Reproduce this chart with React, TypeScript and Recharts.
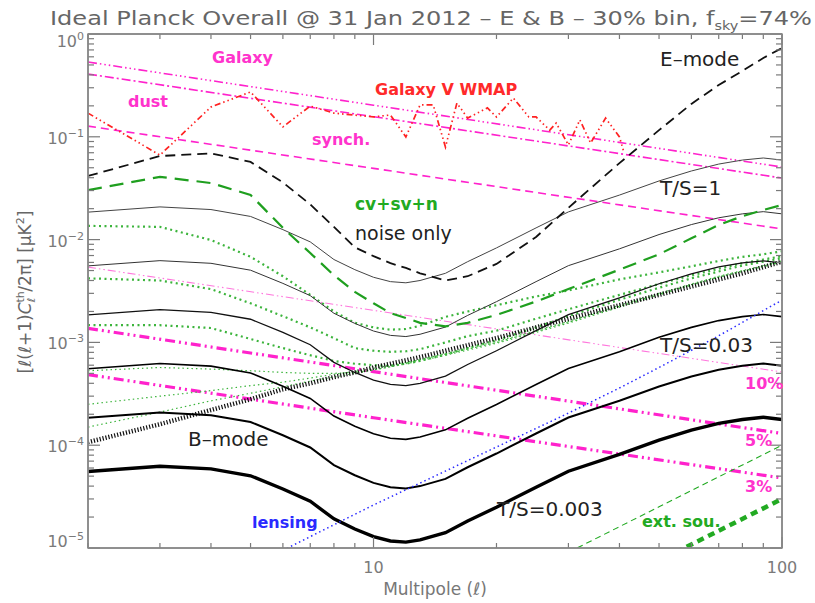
import React from "react";
import { LineChart, Line, XAxis, YAxis } from "recharts";

// multipole grid used by the smooth theory curves
const ELL = [2, 3, 4, 5, 6, 7, 8, 9, 10, 11, 12, 13, 15, 17, 20, 25, 30, 40, 50, 60, 70, 80, 90, 100];

// B-mode spectra for T/S = 1, 0.3, 0.1, 0.03, 0.01, 0.003
const bTS1 = [0.0185, 0.0208, 0.0196, 0.0168, 0.0125, 0.0095, 0.0064, 0.0051, 0.0043, 0.0039, 0.0038, 0.004, 0.0047, 0.0061, 0.0083, 0.013, 0.0186, 0.0271, 0.0372, 0.0465, 0.0543, 0.0594, 0.0622, 0.0594];
const bTS03 = [0.00555, 0.00624, 0.00588, 0.00504, 0.00375, 0.00285, 0.00192, 0.00153, 0.00129, 0.00117, 0.00114, 0.0012, 0.00141, 0.00183, 0.00249, 0.0039, 0.00558, 0.00813, 0.0112, 0.014, 0.0163, 0.0178, 0.0187, 0.0178];
const bTS01 = [0.00185, 0.00208, 0.00196, 0.00168, 0.00125, 0.00095, 0.00064, 0.00051, 0.00043, 0.00039, 0.00038, 0.0004, 0.00047, 0.00061, 0.00083, 0.0013, 0.00186, 0.00271, 0.00372, 0.00465, 0.00543, 0.00594, 0.00622, 0.00594];
const bTS003 = [5.55e-4, 6.24e-4, 5.88e-4, 5.04e-4, 3.75e-4, 2.85e-4, 1.92e-4, 1.53e-4, 1.29e-4, 1.17e-4, 1.14e-4, 1.2e-4, 1.41e-4, 1.83e-4, 2.49e-4, 3.9e-4, 5.58e-4, 8.13e-4, 1.12e-3, 1.4e-3, 1.63e-3, 1.78e-3, 1.87e-3, 1.78e-3];
const bTS001 = [1.85e-4, 2.08e-4, 1.96e-4, 1.68e-4, 1.25e-4, 9.5e-5, 6.4e-5, 5.1e-5, 4.3e-5, 3.9e-5, 3.8e-5, 4.0e-5, 4.7e-5, 6.1e-5, 8.3e-5, 1.3e-4, 1.86e-4, 2.71e-4, 3.72e-4, 4.65e-4, 5.43e-4, 5.94e-4, 6.22e-4, 5.94e-4];
const bTS0003 = [5.55e-5, 6.24e-5, 5.88e-5, 5.04e-5, 3.75e-5, 2.85e-5, 1.92e-5, 1.53e-5, 1.29e-5, 1.17e-5, 1.14e-5, 1.2e-5, 1.41e-5, 1.83e-5, 2.49e-5, 3.9e-5, 5.58e-5, 8.13e-5, 1.12e-4, 1.4e-4, 1.63e-4, 1.78e-4, 1.87e-4, 1.78e-4];

// E-mode (noise only) and cv+sv+n
const eMode = [0.0416, 0.065, 0.069, 0.057, 0.036, 0.022, 0.0133, 0.0084, 0.0069, 0.0059, 0.0053, 0.0047, 0.004, 0.0044, 0.0058, 0.0106, 0.0204, 0.0555, 0.116, 0.209, 0.319, 0.437, 0.584, 0.73];
const cvSvN = [0.0303, 0.0408, 0.0355, 0.0272, 0.013, 0.0074, 0.0045, 0.0031, 0.0024, 0.00193, 0.00173, 0.00155, 0.00143, 0.00155, 0.00185, 0.0025, 0.0033, 0.0051, 0.0072, 0.0103, 0.0139, 0.0169, 0.0194, 0.0217];

// green dotted errors, one per T/S
const err1 = [0.0136, 0.0133, 0.0099, 0.0068, 0.0044, 0.0029, 0.002, 0.00155, 0.0014, 0.00133, 0.00135, 0.00145, 0.00177, 0.002, 0.0023, 0.0028, 0.0032, 0.0041, 0.0048, 0.0055, 0.0062, 0.0068, 0.0072, 0.0077];
const err03 = [0.0042, 0.004, 0.0033, 0.0024, 0.0018, 0.0014, 0.0011, 0.00088, 0.00083, 0.00081, 0.00082, 0.00086, 0.001, 0.00115, 0.0013, 0.0017, 0.0021, 0.0029, 0.0037, 0.0045, 0.0052, 0.0059, 0.0064, 0.0069];
const err01 = [0.00147, 0.00147, 0.00138, 0.00108, 0.00088, 0.00075, 0.00066, 0.00062, 0.0006, 0.00059, 0.00062, 0.00066, 0.00076, 0.00088, 0.00105, 0.0014, 0.0018, 0.0026, 0.0034, 0.0042, 0.0049, 0.0056, 0.0061, 0.0066];
const err003 = [5.3e-4, 5.7e-4, 5.5e-4, 5.3e-4, 5.1e-4, 5.0e-4, 5.0e-4, 5.1e-4, 5.4e-4, 5.8e-4, 6.3e-4, 6.8e-4, 7.8e-4, 8.8e-4, 1.02e-3, 1.3e-3, 1.6e-3, 2.3e-3, 3.0e-3, 3.7e-3, 4.4e-3, 5.0e-3, 5.6e-3, 6.2e-3];
const err001 = [2.5e-4, 3.0e-4, 3.4e-4, 3.8e-4, 4.1e-4, 4.5e-4, 4.9e-4, 5.2e-4, 5.6e-4, 6.0e-4, 6.4e-4, 6.8e-4, 7.7e-4, 8.6e-4, 1.0e-3, 1.28e-3, 1.57e-3, 2.25e-3, 2.95e-3, 3.65e-3, 4.35e-3, 4.95e-3, 5.5e-3, 6.1e-3];
const err0003 = [1.5e-4, 2.1e-4, 2.7e-4, 3.2e-4, 3.7e-4, 4.2e-4, 4.6e-4, 5.0e-4, 5.4e-4, 5.8e-4, 6.2e-4, 6.6e-4, 7.5e-4, 8.4e-4, 9.8e-4, 1.25e-3, 1.54e-3, 2.2e-3, 2.9e-3, 3.6e-3, 4.3e-3, 4.9e-3, 5.45e-3, 6.05e-3];
const noiseB = [1.07e-4, 1.6e-4, 2.2e-4, 2.8e-4, 3.5e-4, 4.0e-4, 4.6e-4, 5.1e-4, 5.7e-4, 6.2e-4, 6.7e-4, 7.2e-4, 8.3e-4, 9.4e-4, 1.1e-3, 1.4e-3, 1.7e-3, 2.3e-3, 2.9e-3, 3.5e-3, 4.1e-3, 4.7e-3, 5.4e-3, 6.1e-3];

// galactic foregrounds (power laws)
const galL = [2, 10, 100];
const galTotal = [0.534, 0.203, 0.0508];
const galDust = [0.408, 0.157, 0.0397];
const galSynch = [0.127, 0.0493, 0.0127];
const res10 = [0.0054, 0.00205, 5.15e-4];
const res5 = [1.37e-3, 5.2e-4, 1.3e-4];
const res3 = [4.86e-4, 1.85e-4, 4.8e-5];

// WMAP V band galaxy estimate
const wmapL = [2, 3, 4, 5, 6, 7, 8, 10, 11, 12, 13, 14, 15, 16, 17, 19, 20, 22, 24, 25, 27, 28, 30, 32, 34, 37, 40, 41];
const wmapV = [0.17, 0.0664, 0.195, 0.273, 0.125, 0.199, 0.17, 0.156, 0.163, 0.0996, 0.204, 0.204, 0.0794, 0.213, 0.152, 0.191, 0.156, 0.238, 0.156, 0.156, 0.116, 0.136, 0.0833, 0.146, 0.087, 0.152, 0.0996, 0.0712];

// lensing and extragalactic sources
const lensL = [6, 10, 15, 20, 30, 40, 50, 70, 100];
const lensV = [9.5e-6, 2.62e-5, 5.6e-5, 9.6e-5, 2.05e-4, 3.6e-4, 5.7e-4, 1.16e-3, 2.58e-3];
const extL = [30, 50, 100];
const extV = [9.07e-6, 2.52e-5, 1.0e-4];
const extResL = [55, 100];
const extResV = [9.1e-6, 3.0e-5];

const X_TICKS = [2, 3, 4, 5, 6, 7, 8, 9, 10, 20, 30, 40, 50, 60, 70, 80, 90, 100];
const X_LABELS = [10, 100];
const Y_DECADES = [1e-5, 1e-4, 1e-3, 1e-2, 1e-1, 1];
const Y_MANT = [1, 2, 3, 4, 5, 6, 7, 8, 9];
const Y_TICKS = Y_DECADES.flatMap((d) => (d === 1 ? [1] : Y_MANT.map((m) => m * d)));

const pts = (ls: number[], vs: number[]) => ls.map((l, i) => ({ l, v: vs[i] }));

const GRAY = "#7a7a7a";
const MAG = "#ff22cc";
const GREEN = "#1f9f1f";
const DOTG = "#3cb43c";
const FONT = "DejaVu Sans";

type S = { key: string; data: { l: number; v: number }[]; stroke: string; w: number; dash?: string };

const series: S[] = [
  { key: "galTotal", data: pts(galL, galTotal), stroke: MAG, w: 1.6, dash: "9 3 1.5 3 1.5 3 1.5 3" },
  { key: "galDust", data: pts(galL, galDust), stroke: MAG, w: 1.6, dash: "9 3 2 3" },
  { key: "galSynch", data: pts(galL, galSynch), stroke: MAG, w: 1.6, dash: "8 5" },
  { key: "res10", data: pts(galL, res10), stroke: "#ff77dd", w: 1.1, dash: "8 3 1.5 3 1.5 3" },
  { key: "res5", data: pts(galL, res5), stroke: MAG, w: 3.2, dash: "10 4 2 4 2 4" },
  { key: "res3", data: pts(galL, res3), stroke: MAG, w: 3.2, dash: "10 4 2 4 2 4" },
  { key: "wmap", data: pts(wmapL, wmapV), stroke: "#ff2222", w: 1.7, dash: "6 3 1.5 3 1.5 3 1.5 3" },
  { key: "err1", data: pts(ELL, err1), stroke: DOTG, w: 2.2, dash: "2 3.5" },
  { key: "err03", data: pts(ELL, err03), stroke: DOTG, w: 2.2, dash: "2 3.5" },
  { key: "err01", data: pts(ELL, err01), stroke: DOTG, w: 2.2, dash: "2 3.5" },
  { key: "err003", data: pts(ELL, err003), stroke: DOTG, w: 1.2, dash: "1.5 3" },
  { key: "err001", data: pts(ELL, err001), stroke: DOTG, w: 1.2, dash: "1.5 3" },
  { key: "err0003", data: pts(ELL, err0003), stroke: DOTG, w: 1.2, dash: "1.5 3" },
  { key: "noiseB", data: pts(ELL, noiseB), stroke: "#111", w: 4.5, dash: "1.2 1.8" },
  { key: "bTS1", data: pts(ELL, bTS1), stroke: "#444", w: 1, dash: undefined },
  { key: "bTS03", data: pts(ELL, bTS03), stroke: "#333", w: 1, dash: undefined },
  { key: "bTS01", data: pts(ELL, bTS01), stroke: "#111", w: 1.3, dash: undefined },
  { key: "bTS003", data: pts(ELL, bTS003), stroke: "#000", w: 1.6, dash: undefined },
  { key: "bTS001", data: pts(ELL, bTS001), stroke: "#000", w: 2, dash: undefined },
  { key: "bTS0003", data: pts(ELL, bTS0003), stroke: "#000", w: 3.4, dash: undefined },
  { key: "eMode", data: pts(ELL, eMode), stroke: "#111", w: 1.8, dash: "10 6" },
  { key: "cvSvN", data: pts(ELL, cvSvN), stroke: GREEN, w: 2.2, dash: "14 8" },
  { key: "lens", data: pts(lensL, lensV), stroke: "#2a2aff", w: 1.5, dash: "1.5 3" },
  { key: "ext", data: pts(extL, extV), stroke: "#22aa22", w: 1.1, dash: "6 4" },
  { key: "extRes", data: pts(extResL, extResV), stroke: "#22aa22", w: 4.5, dash: "7 5" },
];

const isDecade = (v: number) => Math.abs(Math.log10(v) - Math.round(Math.log10(v))) < 1e-6;

const BottomTick = (p: any) => {
  const { x, payload } = p;
  const y = 548;
  const major = X_LABELS.includes(payload.value);
  return (
    <g>
      <line x1={x} y1={y} x2={x} y2={y - (major ? 11 : 5)} stroke={GRAY} strokeWidth={1.2} />
      {major && (
        <text x={x} y={y + 25} textAnchor="middle" fontSize={16} fill={GRAY} fontFamily={FONT}>
          {payload.value}
        </text>
      )}
    </g>
  );
};

const TopTick = (p: any) => {
  const { x, payload } = p;
  const y = 34;
  const major = X_LABELS.includes(payload.value);
  return <line x1={x} y1={y} x2={x} y2={y + (major ? 11 : 5)} stroke={GRAY} strokeWidth={1.2} />;
};

const LeftTick = (p: any) => {
  const { y, payload } = p;
  const x = 88;
  const major = isDecade(payload.value);
  const exp = Math.round(Math.log10(payload.value));
  const off = exp === 0 ? 13 : exp === -5 ? -1 : 7;
  return (
    <g>
      <line x1={x} y1={y} x2={x + (major ? 12 : 6)} y2={y} stroke={GRAY} strokeWidth={1.2} />
      {major && (
        <text x={x - 4} y={y + off} textAnchor="end" fontSize={16} fill={GRAY} fontFamily={FONT}>
          10
          <tspan fontSize={11} dy={-7}>
            {exp === 0 ? "0" : "\u2212" + Math.abs(exp)}
          </tspan>
        </text>
      )}
    </g>
  );
};

const RightTick = (p: any) => {
  const { y, payload } = p;
  const x = 782;
  const major = isDecade(payload.value);
  return <line x1={x} y1={y} x2={x - (major ? 12 : 6)} y2={y} stroke={GRAY} strokeWidth={1.2} />;
};

const labels: { t: string; x: number; y: number; c: string; bold?: boolean; size: number }[] = [
  { t: "Galaxy", x: 212, y: 63, c: "#ff33cc", bold: true, size: 16 },
  { t: "dust", x: 128, y: 107, c: "#ff33cc", bold: true, size: 16 },
  { t: "synch.", x: 312, y: 145, c: "#ff33cc", bold: true, size: 16 },
  { t: "Galaxy V WMAP", x: 375, y: 95, c: "#ff2a2a", bold: true, size: 16 },
  { t: "E\u2013mode", x: 660, y: 66, c: "#222", size: 20 },
  { t: "T/S=1", x: 660, y: 195, c: "#222", size: 20 },
  { t: "cv+sv+n", x: 355, y: 210, c: "#22aa22", bold: true, size: 17 },
  { t: "noise only", x: 355, y: 240, c: "#222", size: 19 },
  { t: "T/S=0.03", x: 660, y: 352, c: "#222", size: 20 },
  { t: "10%", x: 745, y: 389, c: "#ff33cc", bold: true, size: 16 },
  { t: "5%", x: 745, y: 446, c: "#ff33cc", bold: true, size: 16 },
  { t: "3%", x: 745, y: 492, c: "#ff33cc", bold: true, size: 16 },
  { t: "B\u2013mode", x: 188, y: 446, c: "#222", size: 20 },
  { t: "lensing", x: 252, y: 528, c: "#2a2aff", bold: true, size: 16 },
  { t: "T/S=0.003", x: 497, y: 516, c: "#222", size: 20 },
  { t: "ext. sou.", x: 642, y: 527, c: "#22aa22", bold: true, size: 16 },
];

export default function App() {
  const axisLine = { stroke: "#888", strokeWidth: 1.5 };
  return (
    <div style={{ position: "absolute", left: 0, top: 0, width: 815, height: 603, background: "#fff" }}>
      <LineChart width={815} height={603} margin={{ top: 24, right: 23, bottom: 45, left: 78 }}>
        <XAxis
          xAxisId="b"
          dataKey="l"
          type="number"
          scale="log"
          domain={[2, 100]}
          allowDataOverflow
          ticks={X_TICKS}
          interval={0}
          height={10}
          tickSize={0}
          tickMargin={0}
          tickLine={false}
          axisLine={axisLine}
          tick={BottomTick}
        />
        <XAxis
          xAxisId="t"
          orientation="top"
          dataKey="l"
          type="number"
          scale="log"
          domain={[2, 100]}
          allowDataOverflow
          ticks={X_TICKS}
          interval={0}
          height={10}
          tickSize={0}
          tickMargin={0}
          tickLine={false}
          axisLine={axisLine}
          tick={TopTick}
        />
        <YAxis
          yAxisId="l"
          type="number"
          scale="log"
          domain={[1e-5, 1]}
          allowDataOverflow
          ticks={Y_TICKS}
          interval={0}
          width={10}
          tickSize={0}
          tickMargin={0}
          tickLine={false}
          axisLine={axisLine}
          tick={LeftTick}
        />
        <YAxis
          yAxisId="r"
          orientation="right"
          type="number"
          scale="log"
          domain={[1e-5, 1]}
          allowDataOverflow
          ticks={Y_TICKS}
          interval={0}
          width={10}
          tickSize={0}
          tickMargin={0}
          tickLine={false}
          axisLine={axisLine}
          tick={RightTick}
        />
        {series.map((s) => (
          <Line
            key={s.key}
            xAxisId="b"
            yAxisId="l"
            data={s.data}
            dataKey="v"
            type="linear"
            stroke={s.stroke}
            strokeWidth={s.w}
            strokeDasharray={s.dash}
            dot={false}
            activeDot={false}
            isAnimationActive={false}
          />
        ))}
      </LineChart>
      <svg width={815} height={603} style={{ position: "absolute", left: 0, top: 0, pointerEvents: "none" }}>
        <rect x={88} y={34} width={694} height={514} fill="none" stroke="#888" strokeWidth={1.5} />
        <text x={50} y={25} fontSize={20} fill="#666" fontFamily={FONT} textLength={762} lengthAdjust="spacingAndGlyphs">
          {"Ideal Planck Overall @ 31 Jan 2012 \u2013 E & B \u2013 30% bin, f"}
          <tspan fontSize={12} dy={5}>sky</tspan>
          <tspan dy={-5}>=74%</tspan>
        </text>
        <text transform="translate(31,292) rotate(-90)" textAnchor="middle" fontSize={17} fill="#666" fontFamily={FONT}>
          [<tspan fontStyle="italic">ℓ</tspan>(<tspan fontStyle="italic">ℓ</tspan>+1)
          <tspan fontStyle="italic">C</tspan>
          <tspan fontSize={11} dy={-7}>th</tspan>
          <tspan fontSize={11} dx={-11} dy={11} fontStyle="italic">ℓ</tspan>
          <tspan dy={-4} dx={6}>/2π] [μK</tspan>
          <tspan fontSize={11} dy={-7}>2</tspan>
          <tspan dy={7}>]</tspan>
        </text>
        <text x={435} y={595} textAnchor="middle" fontSize={17} fill="#777" fontFamily={FONT}>
          Multipole (<tspan fontStyle="italic">ℓ</tspan>)
        </text>
        {labels.map((l) => (
          <text key={l.t} x={l.x} y={l.y} fontSize={l.size} fill={l.c} fontWeight={l.bold ? "bold" : "normal"} fontFamily={FONT}>
            {l.t}
          </text>
        ))}
      </svg>
    </div>
  );
}
